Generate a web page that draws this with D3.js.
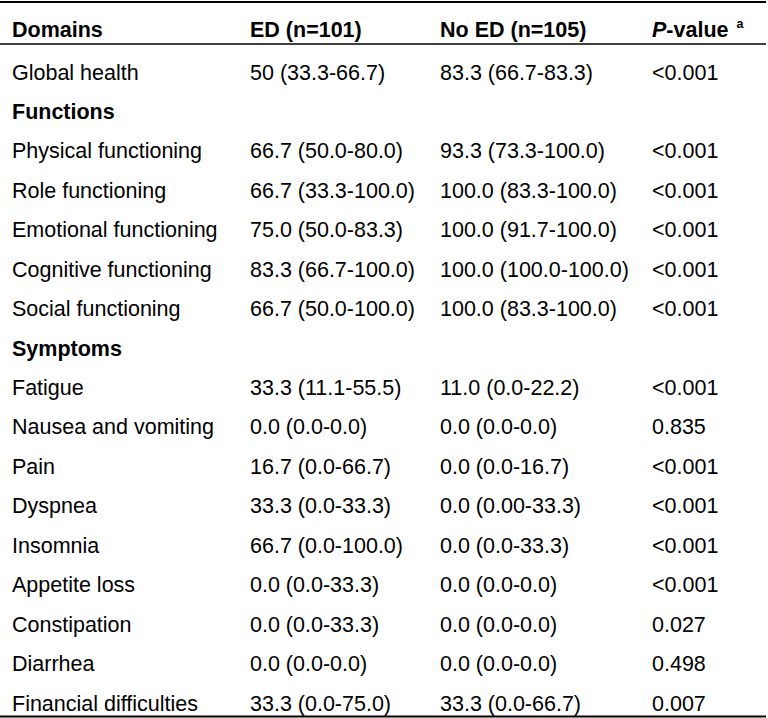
<!DOCTYPE html>
<html>
<head>
<meta charset="utf-8">
<script src="https://cdn.jsdelivr.net/npm/d3@7"></script>
<style>
  html, body { margin: 0; padding: 0; background: #fff; }
  svg { display: block; }
  text { font-family: "Liberation Sans", Arial, Helvetica, sans-serif; fill: #000; }
</style>
</head>
<body>
<svg id="chart" width="768" height="718"></svg>
<script>
// ---- Data ----
const columns = ["Domains", "ED (n=101)", "No ED (n=105)", "P-value"];
const domains = [
  "Global health", "Functions", "Physical functioning", "Role functioning",
  "Emotional functioning", "Cognitive functioning", "Social functioning",
  "Symptoms", "Fatigue", "Nausea and vomiting", "Pain", "Dyspnea", "Insomnia",
  "Appetite loss", "Constipation", "Diarrhea", "Financial difficulties"
];
const sectionRows = ["Functions", "Symptoms"];
const edValues = [
  "50 (33.3-66.7)", "", "66.7 (50.0-80.0)", "66.7 (33.3-100.0)",
  "75.0 (50.0-83.3)", "83.3 (66.7-100.0)", "66.7 (50.0-100.0)",
  "", "33.3 (11.1-55.5)", "0.0 (0.0-0.0)", "16.7 (0.0-66.7)", "33.3 (0.0-33.3)",
  "66.7 (0.0-100.0)", "0.0 (0.0-33.3)", "0.0 (0.0-33.3)", "0.0 (0.0-0.0)", "33.3 (0.0-75.0)"
];
const noEdValues = [
  "83.3 (66.7-83.3)", "", "93.3 (73.3-100.0)", "100.0 (83.3-100.0)",
  "100.0 (91.7-100.0)", "100.0 (100.0-100.0)", "100.0 (83.3-100.0)",
  "", "11.0 (0.0-22.2)", "0.0 (0.0-0.0)", "0.0 (0.0-16.7)", "0.0 (0.00-33.3)",
  "0.0 (0.0-33.3)", "0.0 (0.0-0.0)", "0.0 (0.0-0.0)", "0.0 (0.0-0.0)", "33.3 (0.0-66.7)"
];
const pValues = [
  "<0.001", "", "<0.001", "<0.001", "<0.001", "<0.001", "<0.001",
  "", "<0.001", "0.835", "<0.001", "<0.001", "<0.001", "<0.001", "0.027", "0.498", "0.007"
];

// ---- Layout ----
const svg = d3.select("#chart");
const fontSize = 21.5;

const x = d3.scaleOrdinal().domain(columns).range([12, 250, 440, 652]);
const y = d3.scalePoint().domain(d3.range(domains.length)).range([79.5, 710.5]);

const rows = domains.map((d, i) => ({
  cells: [d, edValues[i], noEdValues[i], pValues[i]],
  section: sectionRows.includes(d)
}));

// Rules
const rules = [
  { y: 2, w: 2 },
  { y: 44, w: 1.6 },
  { y: 716.5, w: 2.2 }
];
svg.selectAll("line.rule").data(rules).join("line")
  .attr("class", "rule")
  .attr("x1", 0).attr("x2", 766)
  .attr("y1", d => d.y).attr("y2", d => d.y)
  .attr("stroke", "#000").attr("stroke-width", d => d.w);

// Header
const header = svg.append("g");
columns.forEach((c) => {
  const t = header.append("text")
    .attr("x", x(c)).attr("y", 37)
    .attr("font-size", fontSize).attr("font-weight", "bold");
  if (c === "P-value") {
    t.append("tspan").attr("font-style", "italic").text("P");
    t.append("tspan").text("-value ");
    t.append("tspan").attr("font-size", 12.5).attr("dx", 2).attr("dy", -9).text("a");
  } else {
    t.text(c);
  }
});

// Body
const g = svg.append("g");
const rowG = g.selectAll("g.row").data(rows).join("g")
  .attr("class", "row")
  .attr("transform", (d, i) => `translate(0,${y(i)})`);
rowG.selectAll("text").data(d => d.cells.map((c, j) => ({ c, j, section: d.section })))
  .join("text")
  .attr("x", d => x(columns[d.j]))
  .attr("font-size", fontSize)
  .attr("font-weight", d => d.section ? "bold" : "normal")
  .text(d => d.c);
</script>
</body>
</html>
